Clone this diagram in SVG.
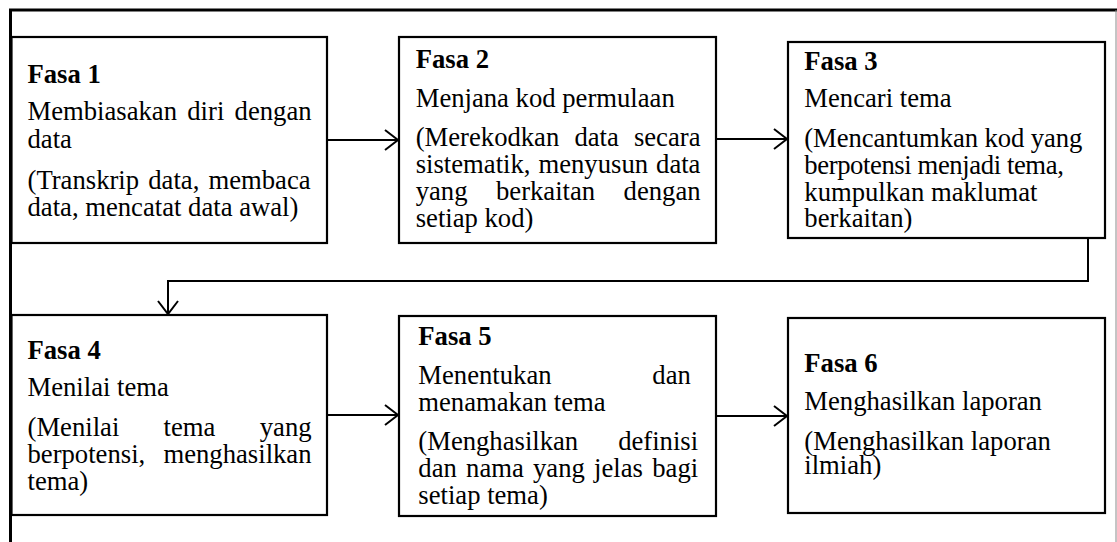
<svg xmlns="http://www.w3.org/2000/svg" width="1117" height="542" viewBox="0 0 1117 542">
  <style>
    .box { fill: #ffffff; stroke: #000000; stroke-width: 2.2; }
    .frame { fill: none; stroke: #000000; stroke-width: 3; }
    .edge { fill: none; stroke: #000000; stroke-width: 2; }
    text { font-family: "Liberation Serif", "Times New Roman", serif; font-size: 26.67px; fill: #000000; }
    .title { font-weight: bold; }
  </style>
  <defs>
    <marker id="arrow" markerUnits="userSpaceOnUse" markerWidth="20" markerHeight="24" viewBox="-16 -12 20 24" refX="0" refY="0" orient="auto">
      <path d="M -13 -10 L 0 0 L -13 10" fill="none" stroke="#000000" stroke-width="2"/>
    </marker>
  </defs>

  <rect width="1117" height="542" fill="#ffffff"/>

  <!-- outer frame: heavy top and left rules, light right rule -->
  <g id="frame">
    <path class="frame" d="M 10.5 542 L 10.5 10 L 1117 10"/>
    <line x1="1116" y1="10" x2="1116" y2="542" stroke="#8a8a8a" stroke-width="1"/>
  </g>

  <!-- connectors -->
  <g id="connectors">
    <line class="edge" x1="327" y1="140" x2="398" y2="140" marker-end="url(#arrow)"/>
    <line class="edge" x1="716" y1="139" x2="787" y2="139" marker-end="url(#arrow)"/>
    <polyline class="edge" points="1088,238 1088,281 168,281 168,314" marker-end="url(#arrow)"/>
    <line class="edge" x1="327" y1="415" x2="398" y2="415" marker-end="url(#arrow)"/>
    <line class="edge" x1="716" y1="416" x2="787" y2="416" marker-end="url(#arrow)"/>
  </g>

  <g id="fasa1">
    <rect class="box" x="11.5" y="37" width="315.5" height="206"/>
    <text class="title" x="27.5" y="82.5">Fasa 1</text>
    <text x="27.5" y="120" word-spacing="3.6">Membiasakan diri dengan</text>
    <text x="27.5" y="147.5">data</text>
    <text x="27.5" y="188.5" word-spacing="2.5">(Transkrip data, membaca</text>
    <text x="27.5" y="216">data, mencatat data awal)</text>
  </g>

  <g id="fasa2">
    <rect class="box" x="399" y="37" width="317" height="206"/>
    <text class="title" x="415.7" y="68">Fasa 2</text>
    <text x="415.7" y="106.5">Menjana kod permulaan</text>
    <text x="415.7" y="146" word-spacing="8.45">(Merekodkan data secara</text>
    <text x="415.7" y="173" word-spacing="1.35">sistematik, menyusun data</text>
    <text x="415.7" y="200" word-spacing="21.8">yang berkaitan dengan</text>
    <text x="415.7" y="227">setiap kod)</text>
  </g>

  <g id="fasa3">
    <rect class="box" x="788" y="42" width="317" height="196"/>
    <text class="title" x="804.3" y="70">Fasa 3</text>
    <text x="804.3" y="107">Mencari tema</text>
    <text x="804.3" y="147" textLength="278" lengthAdjust="spacing">(Mencantumkan kod yang</text>
    <text x="804.3" y="174" textLength="259.5" lengthAdjust="spacing">berpotensi menjadi tema,</text>
    <text x="804.3" y="200.5">kumpulkan maklumat</text>
    <text x="804.3" y="227">berkaitan)</text>
  </g>

  <g id="fasa4">
    <rect class="box" x="11.5" y="315" width="315.5" height="200"/>
    <text class="title" x="27.5" y="358.5">Fasa 4</text>
    <text x="27.5" y="396">Menilai tema</text>
    <text x="27.5" y="436" word-spacing="37.65">(Menilai tema yang</text>
    <text x="27.5" y="463" word-spacing="11.6">berpotensi, menghasilkan</text>
    <text x="27.5" y="490">tema)</text>
  </g>

  <g id="fasa5">
    <rect class="box" x="399" y="316" width="317" height="200"/>
    <text class="title" x="418.3" y="345">Fasa 5</text>
    <text x="418.3" y="383.5" word-spacing="94.1">Menentukan dan</text>
    <text x="418.3" y="410.5">menamakan tema</text>
    <text x="418.3" y="450" word-spacing="33.3">(Menghasilkan definisi</text>
    <text x="418.3" y="477" word-spacing="2.6">dan nama yang jelas bagi</text>
    <text x="418.3" y="503.5">setiap tema)</text>
  </g>

  <g id="fasa6">
    <rect class="box" x="788" y="318" width="317" height="195"/>
    <text class="title" x="804.3" y="371.5">Fasa 6</text>
    <text x="804.3" y="409.5">Menghasilkan laporan</text>
    <text x="804.3" y="449.5">(Menghasilkan laporan</text>
    <text x="804.3" y="473.5">ilmiah)</text>
  </g>
</svg>
